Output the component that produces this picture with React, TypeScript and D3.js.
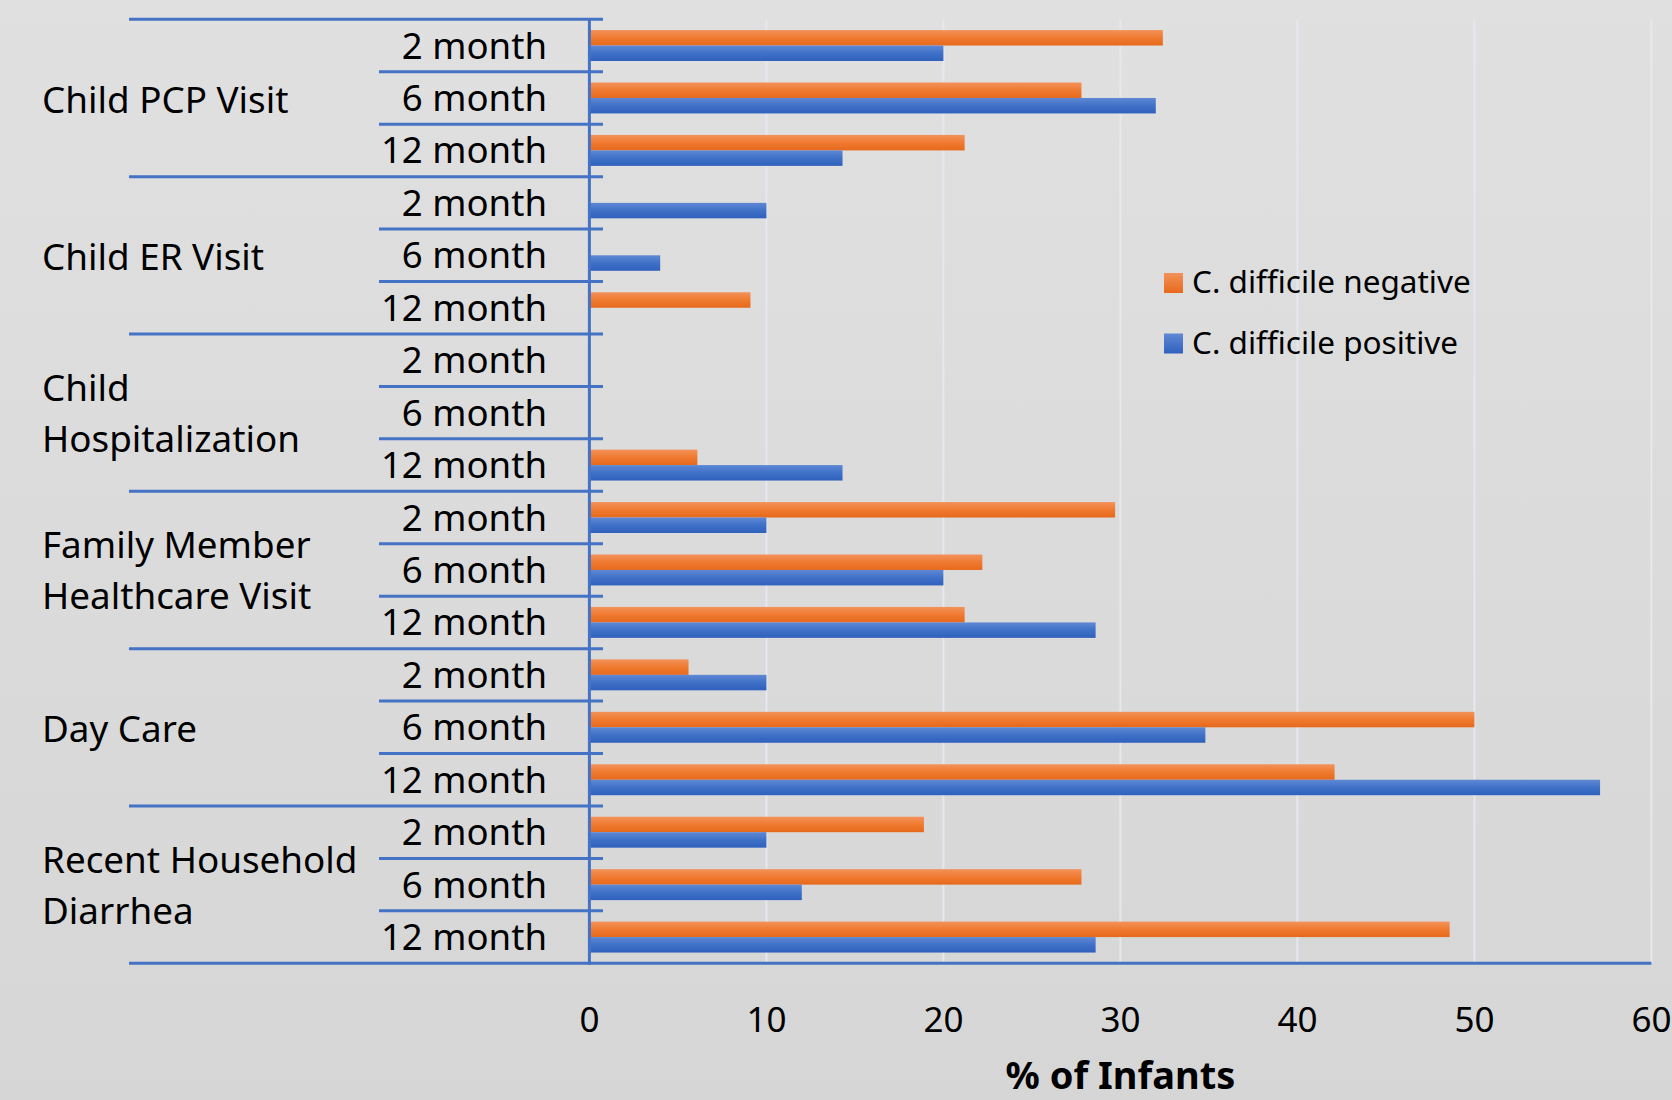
import React from "react";
import { scaleLinear, scaleBand } from "d3";

// data
const groups = [
  "Child PCP Visit",
  "Child ER Visit",
  "Child\nHospitalization",
  "Family Member\nHealthcare Visit",
  "Day Care",
  "Recent Household\nDiarrhea",
];
const months = ["2 month", "6 month", "12 month"];
const series = ["C. difficile negative", "C. difficile positive"];

// one value per (group, month) row, in order
const negative = [32.4, 27.8, 21.2, 0, 0, 9.1, 0, 0, 6.1, 29.7, 22.2, 21.2, 5.6, 50.0, 42.1, 18.9, 27.8, 48.6];
const positive = [20.0, 32.0, 14.3, 10.0, 4.0, 0, 0, 0, 14.3, 10.0, 20.0, 28.6, 10.0, 34.8, 57.1, 10.0, 12.0, 28.6];
const xTicks = [0, 10, 20, 30, 40, 50, 60];

const width = 1672;
const height = 1100;
const plot = { left: 589.4, right: 1651.4, top: 19.3, bottom: 963.3 };
const axisColor = "#4472c4";
const font = "'Noto Sans', sans-serif";
const colors = ["url(#gradNeg)", "url(#gradPos)"];
const legendColors = ["url(#gradNegL)", "url(#gradPosL)"];

const rows = [];
groups.forEach((g, gi) => {
  months.forEach((m, mi) => {
    const i = gi * months.length + mi;
    rows.push({ key: `${gi}-${mi}`, group: gi, month: m, values: [negative[i], positive[i]] });
  });
});

export default function App() {
  const xScale = scaleLinear().domain([0, 60]).range([plot.left, plot.right]);
  const yScale = scaleBand()
    .domain(rows.map((r) => r.key))
    .range([plot.top, plot.bottom])
    .paddingInner(0.41)
    .paddingOuter(0.205);
  const sub = scaleBand().domain(series).range([0, yScale.bandwidth()]);
  const step = yScale.step();
  const rowTop = (i) => plot.top + i * step;

  return (
    <div style={{ position: "absolute", left: 0, top: 0 }}>
      <svg width={width} height={height} style={{ display: "block" }}>
        <defs>
          <linearGradient id="bg" x1="0" y1="0" x2="0" y2="1">
            <stop offset="0" stopColor="#e0e0e0" />
            <stop offset="1" stopColor="#d6d6d6" />
          </linearGradient>
          <linearGradient id="gradNeg" x1="0" y1="0" x2="0" y2="1">
            <stop offset="0" stopColor="#f3925a" />
            <stop offset="0.5" stopColor="#f07a30" />
            <stop offset="1" stopColor="#e6691c" />
          </linearGradient>
          <linearGradient id="gradPos" x1="0" y1="0" x2="0" y2="1">
            <stop offset="0" stopColor="#5f88d4" />
            <stop offset="0.5" stopColor="#3f71c8" />
            <stop offset="1" stopColor="#2f61bd" />
          </linearGradient>
          <linearGradient id="gradNegL" x1="0" y1="0" x2="0" y2="1">
            <stop offset="0" stopColor="#f3925a" />
            <stop offset="1" stopColor="#e6691c" />
          </linearGradient>
          <linearGradient id="gradPosL" x1="0" y1="0" x2="0" y2="1">
            <stop offset="0" stopColor="#5f88d4" />
            <stop offset="1" stopColor="#2f61bd" />
          </linearGradient>
        </defs>
        <rect x={0} y={0} width={width} height={height} fill="url(#bg)" />

        {/* gridlines */}
        {xTicks.filter((t) => t > 0).map((t) => (
          <line key={t} x1={xScale(t)} x2={xScale(t)} y1={plot.top} y2={plot.bottom}
            stroke="#e5e8ee" strokeWidth={2} />
        ))}

        {/* bars */}
        {rows.map((r) => (
          <g key={r.key} transform={`translate(0,${yScale(r.key)})`}>
            {r.values.map((v, si) =>
              v > 0 ? (
                <rect key={si} x={xScale(0)} y={sub(series[si])} width={xScale(v) - xScale(0)}
                  height={sub.bandwidth()} fill={colors[si]} />
              ) : null
            )}
          </g>
        ))}

        {/* category separators */}
        {Array.from({ length: rows.length + 1 }, (_, i) => {
          const isGroup = i % months.length === 0;
          return (
            <line key={i} x1={isGroup ? 129 : 379} x2={603} y1={rowTop(i)} y2={rowTop(i)}
              stroke={axisColor} strokeWidth={3} />
          );
        })}
        <line x1={603} x2={plot.right} y1={plot.bottom} y2={plot.bottom} stroke={axisColor} strokeWidth={3} />
        <line x1={xScale(0)} x2={xScale(0)} y1={plot.top} y2={plot.bottom + 1.5} stroke={axisColor} strokeWidth={3} />

        {/* month labels */}
        {rows.map((r) => (
          <text key={r.key} x={547} y={yScale(r.key) + yScale.bandwidth() / 2 + 13}
            textAnchor="end" fontFamily={font} fontSize={36.6} fill="#000">
            {r.month}
          </text>
        ))}

        {/* group labels */}
        {groups.map((g, gi) => {
          const lines = g.split("\n");
          const mid = (rowTop(gi * 3) + rowTop(gi * 3 + 3)) / 2;
          const cy = mid + (lines.length > 1 ? 13.5 : 15);
          const lh = 51;
          return (
            <text key={gi} x={42} fontFamily={font} fontSize={36.8} fill="#000">
              {lines.map((l, li) => (
                <tspan key={li} x={42} y={cy + (li - (lines.length - 1) / 2) * lh}>{l}</tspan>
              ))}
            </text>
          );
        })}

        {/* x tick labels */}
        {xTicks.map((t) => (
          <text key={t} x={xScale(t)} y={1032} textAnchor="middle" fontFamily={font} fontSize={35} fill="#000">
            {t}
          </text>
        ))}
        <text x={(plot.left + plot.right) / 2} y={1089} textAnchor="middle" fontFamily={font}
          fontWeight="bold" fontSize={38} fill="#000">
          % of Infants
        </text>

        {/* legend */}
        {series.map((s, si) => (
          <g key={s} transform={`translate(1164,${273 + si * 60.5})`}>
            <rect x={0} y={0} width={19} height={20} fill={legendColors[si]} />
            <text x={28} y={20} fontFamily={font} fontSize={31.5} fill="#000">{s}</text>
          </g>
        ))}
      </svg>
    </div>
  );
}
